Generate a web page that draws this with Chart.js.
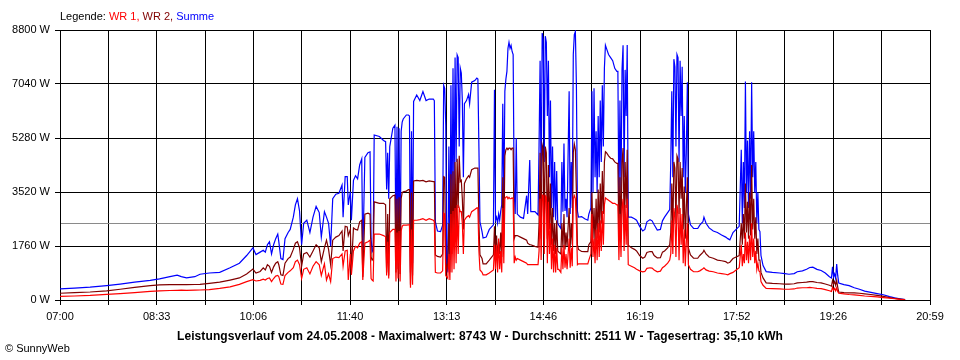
<!DOCTYPE html>
<html><head><meta charset="utf-8">
<script src="https://cdn.jsdelivr.net/npm/chart.js@4.4.1/dist/chart.umd.min.js"></script>
<style>
html,body{margin:0;padding:0;background:#fff;}
#wrap{position:relative;width:960px;height:360px;overflow:hidden;font-family:"Liberation Sans",Arial,sans-serif;background:#fff;}
#c{position:absolute;left:0;top:0;}
.txt{position:absolute;white-space:nowrap;font-size:11px;line-height:13px;color:#000;}
</style></head><body>
<div id="wrap">
<canvas id="c" width="960" height="360"></canvas>
<div class="txt" id="legend" style="left:60px;top:10px;"></div>
<div class="txt" id="title" style="left:0;width:960px;text-align:center;top:330px;font-weight:bold;font-size:12px;letter-spacing:0.1px;"></div>
<div class="txt" id="copy" style="left:5px;top:342px;"></div>
</div>
<script>
// ---- data (minutes after 07:00, watts) ----
const times = [0,14,29,45,58,72,87,96,106,113,
117,122,130,135,144,154,164,173,180,186,
189,193,196,198,200,202,204,206,208,210,
211,213,215,217,220,222,225,227,229,231,
233,235,238,241,244,247,250,252,255,257,
259,261,263,266,269,272,273,275,277,278,
280,281,283,285,287,289,291,292,294,297,
299,300,301,302,303,308,312,314,315,316,
317,318,321,323,324,325,326,327,328,329,
330,331,334,336,337,338,339,340,341,344,
347,350,353,356,360,361,362,364,367,369,
370,371,372,373,374,375,376,377,378,379,
380,381,382,383,384,385,386,387,388,389,
390,392,394,395,397,400,402,403,404,405,
407,408,411,414,418,419,420,421,422,423,
424,425,426,427,428,429,430,431,432,433,
434,435,436,437,438,439,440,441,444,447,
450,451,453,454,458,461,462,463,464,465,
466,467,468,469,470,471,472,473,474,475,
476,477,478,479,480,481,483,484,485,486,
487,488,489,491,492,493,494,495,496,497,
498,499,500,503,506,509,510,512,513,514,
515,516,517,518,519,520,521,522,523,524,
525,526,527,529,531,533,535,537,538,539,
540,541,542,543,544,545,546,547,548,551,
554,556,559,562,564,566,569,571,573,576,
579,581,583,586,588,589,590,591,592,593,
594,595,596,597,598,599,600,601,602,603,
604,605,606,608,611,615,617,620,621,623,
626,630,634,638,642,644,646,649,652,655,
657,658,659,660,661,662,663,664,665,666,
667,668,669,670,671,672,673,674,675,676,
678,681,687,694,699,703,708,711,716,720,
723,726,730,734,738,742,744,745,746,747,
748,749,750,751,756,761,766,771,776,782,
788,794,800,805,810,815];

const wr1 = [120,130,150,185,210,240,280,295,310,315,
320,315,325,326,340,380,430,510,600,660,
620,640,680,650,700,720,600,700,780,800,
760,520,510,800,900,950,1050,1250,1300,1150,
700,1000,1050,850,1100,1250,1150,800,1180,650,
850,600,1350,1400,1380,1500,1100,1600,1620,650,
1500,820,1600,1750,1700,1850,1900,650,1850,1900,
1950,700,650,620,2150,2150,2100,2060,800,1900,
700,2200,2300,2300,600,2200,700,2250,600,2250,
2400,2440,2440,2450,2450,400,2300,500,2600,2600,
2620,2650,2600,2650,2600,2550,900,880,880,950,
2830,2800,800,750,700,1500,650,2800,900,2900,
1000,3000,1200,3100,1500,3000,2880,2880,2500,1500,
2600,2700,2750,2700,2880,2950,3000,3000,1600,980,
900,820,820,880,980,1800,1000,1800,900,2000,
1000,1600,900,3000,1200,3300,3350,3370,3300,3350,
3300,3300,3330,3300,1200,1400,1300,1350,1300,1250,
1200,1150,1150,1150,1150,1150,1600,3300,1300,3420,
3400,1500,3400,3350,1200,3200,1500,2500,1000,2000,
900,1800,900,1700,1000,1000,900,1700,1000,1800,
1050,1500,1000,2000,1050,1700,1100,3300,3400,3300,
2500,1150,1180,1180,1180,1180,1300,1500,2800,1400,
2000,1200,2300,1300,2500,1400,2600,1600,2900,1800,
3100,3330,3300,3250,3200,3150,3150,3100,3100,1300,
2800,1400,3000,3300,1600,3100,1800,3300,1150,1100,
1050,1000,950,920,930,1030,1050,1040,980,920,
940,1050,1100,1200,1300,1500,2600,1500,3000,2700,
1400,3100,2900,1300,3000,1800,2800,1200,2300,1100,
1900,2500,1150,1000,920,920,950,1020,1050,980,
940,920,880,860,840,820,860,900,980,1050,
1800,1100,1500,1200,2200,1300,1900,1200,2100,1300,
2500,1400,2000,1200,1600,1000,1200,950,920,600,
480,380,370,360,350,350,360,390,400,400,
410,400,380,370,340,300,280,420,320,380,
300,400,280,220,200,180,170,150,130,120,
100,80,60,40,20,5];

const wr2 = [220,240,260,300,350,410,470,490,500,500,
505,500,505,510,540,580,650,720,850,1010,
880,930,1050,980,1150,1100,900,1080,1200,1250,
1150,820,800,1200,1350,1400,1650,1850,1900,1700,
1100,1500,1550,1400,1600,1800,1700,1250,1700,1950,
1650,1150,1950,2050,2100,2250,1600,2400,2380,2100,
2300,1000,2350,2300,2280,2550,2600,750,2800,2830,
2800,1400,1300,1350,3200,3150,3150,3100,900,2800,
800,3300,3400,3420,900,3300,1000,3350,850,3300,
3500,3530,3550,3600,3600,500,3500,800,3880,3900,
3880,3900,3850,3880,3860,3860,1470,1420,1400,1500,
4020,4000,1200,1000,1200,2500,900,4100,1500,4200,
1800,4500,2000,4600,3000,4700,3860,3900,3300,2300,
3800,3950,4050,4000,4250,4300,4300,4300,2500,1470,
1350,1180,1180,1300,1470,2400,1500,2100,1400,1900,
1500,2200,1400,4000,1700,4700,4900,4950,4900,4950,
4950,4900,4950,4950,2000,2100,2100,2100,2050,2000,
1950,1850,1800,1800,1750,1720,2500,4800,2000,5050,
4900,2500,5000,4800,2000,4400,2300,3800,1800,3000,
1600,2500,1500,2600,1600,1560,1500,2500,1700,2800,
1650,2200,1750,3000,1700,2500,1800,4800,5080,4900,
3500,1800,1650,1580,1575,1575,1800,1900,3500,2000,
3000,1800,3300,2000,3600,2200,3800,2500,4200,2800,
4500,4830,4800,4700,4620,4600,4500,4450,4450,2000,
4000,2200,4500,4950,2500,4500,3000,4900,1790,1700,
1650,1600,1450,1360,1400,1550,1580,1575,1450,1370,
1380,1560,1600,1700,1800,2200,3800,2200,4500,4300,
2500,4700,4600,2800,4500,3300,4300,2300,3700,2000,
3000,4000,1700,1470,1360,1360,1450,1550,1620,1500,
1400,1360,1300,1280,1250,1200,1230,1350,1400,1450,
2500,1800,2800,2000,3800,2200,3200,2000,3500,2100,
4400,2300,3300,2000,2700,1500,2000,1300,1300,900,
720,560,540,530,520,520,530,560,570,580,
600,600,570,560,520,480,450,640,520,600,
480,640,420,260,240,230,230,220,200,180,
150,120,80,50,30,10];

const summe = [360,390,420,470,520,580,640,690,760,810,
760,720,760,840,880,900,1050,1200,1450,1700,
1480,1560,1620,1560,1800,1900,1500,1800,2000,2150,
1900,1350,1320,2000,2200,2300,2700,3100,3300,2900,
1800,2500,2600,2200,2700,3050,2850,2050,2880,2700,
2500,1750,3300,3450,3480,3750,2700,4020,4020,3100,
3530,2600,3900,4050,3950,4400,4600,1400,4650,4800,
4830,2000,1575,1650,5380,5330,5200,5160,3600,4800,
3300,5000,5600,5700,1500,5650,1800,5600,1400,5500,
5800,5900,6030,6030,6000,900,5500,1200,6470,6680,
6500,6790,6500,6550,6550,6500,2550,2250,2230,2440,
7000,6900,5700,1200,900,5000,1300,7000,2500,7550,
3000,7900,4500,7990,7900,5000,7560,7400,6500,4000,
6400,6500,6700,6400,7100,7150,7230,7200,4950,2550,
2230,2020,2050,2300,2450,6850,2600,2700,2500,2800,
2600,2900,3100,6400,3000,6800,7200,7450,8200,8400,
8200,8300,8100,8000,3530,2800,5280,2800,2700,2660,
3400,2800,4560,2880,2880,2770,5050,7800,3500,8700,
8500,4500,8600,8400,6000,7800,4000,6500,3000,5000,
2700,4500,2600,4200,2500,2440,2330,4500,2880,5100,
2900,3300,2700,6800,2800,4500,3000,8000,8650,8750,
7000,2900,2700,2720,2650,2600,2800,3000,6800,3500,
6900,4000,5500,3500,6000,4000,6500,4500,7000,5000,
7560,8300,8200,8000,7900,7800,7550,7450,7450,2880,
6500,3500,7500,8300,4000,7500,6000,8310,2700,2700,
2650,2600,2400,2250,2300,2550,2620,2580,2450,2280,
2300,2580,2700,2850,2950,4500,6800,4000,7850,7600,
5000,8000,7900,4500,7800,6000,7600,4000,6000,3500,
4800,7100,2800,2450,2330,2330,2440,2550,2700,2500,
2350,2250,2200,2120,2050,2000,1960,2200,2300,2400,
4900,2500,4500,3000,7120,3500,5200,3000,5500,3300,
7100,4000,5500,3500,4500,2500,3500,2300,2230,1450,
1120,925,900,880,860,840,860,920,950,1000,
1060,1070,1000,960,880,760,720,1080,760,850,
700,1170,800,550,500,470,400,350,290,250,
210,170,110,70,40,10];

const seriesNames = ["WR 1", "WR 2", "Summe"];
const xTickLabels = ["07:00","08:33","10:06","11:40","13:13","14:46","16:19","17:52","19:26","20:59"];
const yTickValues = [0,1760,3520,5280,7040,8800];
const dayMinutes = 839;        // 07:00 .. 20:59
const averageWatt = 2511;
const titleText = "Leistungsverlauf vom 24.05.2008 - Maximalwert: 8743 W - Durchschnitt: 2511 W - Tagesertrag: 35,10 kWh";
const copyText = "\u00A9 SunnyWeb";

// ---- texts ----
const colors = ["#ff0000", "#800000", "#0000ff"];
const lg = document.getElementById('legend');
lg.appendChild(document.createTextNode("Legende: "));
seriesNames.forEach((n, i) => {
  const s = document.createElement('span');
  s.style.color = colors[i];
  s.textContent = n + (i < seriesNames.length - 1 ? ", " : "");
  lg.appendChild(s);
});
document.getElementById('title').textContent = titleText;
document.getElementById('copy').textContent = copyText;

// ---- chart ----
const pts = arr => arr.map((v, i) => ({x: times[i], y: v}));
const avgLine = {
  id: 'avgLine',
  beforeDatasetsDraw(chart) {
    const {ctx, chartArea: a, scales: {y}} = chart;
    const py = Math.round(y.getPixelForValue(averageWatt)) + 0.5;
    ctx.save();
    ctx.strokeStyle = '#8a8a8a';
    ctx.lineWidth = 1;
    ctx.beginPath();
    ctx.moveTo(a.left + 1, py);
    ctx.lineTo(a.right, py);
    ctx.stroke();
    ctx.restore();
  }
};
const font = {family: '"Liberation Sans", Arial, sans-serif', size: 11};
new Chart(document.getElementById('c'), {
  type: 'line',
  data: {
    datasets: [
      {label: seriesNames[0], data: pts(wr1), borderColor: colors[0]},
      {label: seriesNames[1], data: pts(wr2), borderColor: colors[1]},
      {label: seriesNames[2], data: pts(summe), borderColor: colors[2]}
    ]
  },
  options: {
    responsive: false,
    animation: false,
    devicePixelRatio: 1,
    layout: {padding: {left: 0, right: 30, top: 30, bottom: 0}},
    elements: {
      line: {borderWidth: 1.2, tension: 0, fill: false},
      point: {radius: 0, hoverRadius: 0}
    },
    plugins: {legend: {display: false}, title: {display: false}, tooltip: {enabled: false}},
    scales: {
      x: {
        type: 'linear', min: 0, max: dayMinutes,
        afterBuildTicks: s => { s.ticks = Array.from({length: 19}, (_, i) => ({value: i * dayMinutes / 18})); },
        afterFit: s => { s.height = 60; },
        ticks: {
          autoSkip: false, maxRotation: 0, minRotation: 0, color: '#000', font, padding: 5,
          callback: (v, i) => (i % 2 === 0 ? xTickLabels[i / 2] : '')
        },
        grid: {color: '#000', lineWidth: 1, tickLength: 5, tickColor: '#000'},
        border: {display: true, color: '#000', width: 1}
      },
      y: {
        min: yTickValues[0], max: yTickValues[yTickValues.length - 1],
        afterBuildTicks: s => { s.ticks = yTickValues.map(v => ({value: v})); },
        afterFit: s => { s.width = 60; },
        ticks: {color: '#000', font, padding: 5, callback: v => v + ' W'},
        grid: {color: '#000', lineWidth: 1, tickLength: 5, tickColor: '#000'},
        border: {display: true, color: '#000', width: 1}
      }
    }
  },
  plugins: [avgLine]
});
</script>
</body></html>
